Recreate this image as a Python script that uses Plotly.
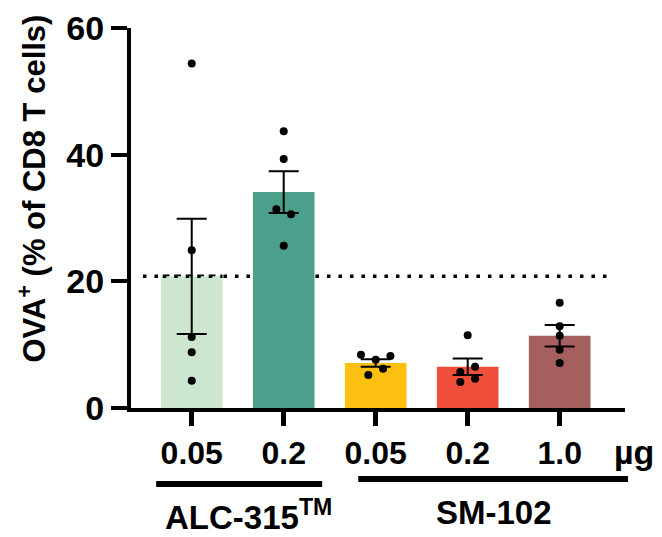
import plotly.graph_objects as go

# ---- data ----
dose_labels = ["0.05", "0.2", "0.05", "0.2", "1.0"]
bar_means = [20.8, 34.1, 7.1, 6.5, 11.4]
bar_sem = [9.1, 3.3, 0.6, 1.3, 1.7]
bar_colors = ["#CDE6CF", "#4BA08B", "#FBC010", "#EF4F3A", "#A65F5F"]
points = [
    [54.4, 24.9, 11.2, 8.8, 4.3],
    [43.7, 39.3, 31.4, 30.6, 25.6],
    [8.4, 7.6, 8.2, 6.2, 5.2],
    [11.5, 5.7, 6.5, 4.1, 4.6],
    [16.6, 12.9, 11.4, 9.2, 7.1],
]
point_offsets = [
    [0, 0, 0, 0, 0],
    [0, 0, -0.08, 0.08, 0],
    [-0.16, 0, 0.16, 0.08, -0.08],
    [0, -0.08, 0.08, -0.08, 0.08],
    [0, 0, 0, 0, 0],
]
reference_level = 20.8
y_ticks = [0, 20, 40, 60]
group_names = ["ALC-315<sup>TM</sup>", "SM-102"]
unit_label = "µg"
y_title = "OVA<sup>+</sup> (% of CD8 T cells)"

FONT = "Arial, Liberation Sans, sans-serif"
xs = list(range(len(bar_means)))
BAR_W = 0.67

# page body has an 8px default margin; figure is sized to fit the window
W, H = 654, 529

fig = go.Figure()
fig.add_trace(go.Bar(
    x=xs, y=bar_means, width=BAR_W,
    marker=dict(color=bar_colors, line=dict(width=0)),
    error_y=dict(type="data", array=bar_sem, visible=True,
                 color="black", thickness=2, width=15),
    showlegend=False,
))
px, py = [], []
for i, vals in enumerate(points):
    for v, o in zip(vals, point_offsets[i]):
        px.append(i + o)
        py.append(v)
fig.add_trace(go.Scatter(
    x=px, y=py, mode="markers",
    marker=dict(color="black", size=8, line=dict(width=0)),
    showlegend=False, cliponaxis=False,
))

dot_line = dict(color="black", width=3.5, dash="3.5px,8px")
fig.add_shape(type="line", xref="x", yref="y", x0=-0.53, x1=4.57,
              y0=reference_level, y1=reference_level, layer="below",
              line=dot_line)
# the dotted line shows over the first (pale) bar
fig.add_shape(type="line", xref="x", yref="y", x0=xs[0] - BAR_W / 2 + 0.02,
              x1=xs[0] + BAR_W / 2, y0=reference_level, y1=reference_level,
              layer="above", line=dot_line)

# group underlines
fig.add_shape(type="line", xref="paper", yref="paper", x0=0.051, x1=0.387,
              y0=-0.2, y1=-0.2, line=dict(color="black", width=6))
fig.add_shape(type="line", xref="paper", yref="paper", x0=0.460, x1=1.006,
              y0=-0.187, y1=-0.187, line=dict(color="black", width=6))
fig.add_annotation(x=0.237, y=-0.282, xref="paper", yref="paper",
                   xanchor="center", yanchor="middle",
                   text=group_names[0], showarrow=False,
                   font=dict(family=FONT, size=33, color="black", weight="bold"))
fig.add_annotation(x=0.735, y=-0.274, xref="paper", yref="paper",
                   xanchor="center", yanchor="middle",
                   text=group_names[1], showarrow=False,
                   font=dict(family=FONT, size=33, color="black", weight="bold"))
fig.add_annotation(x=1.019, y=-0.115, xref="paper", yref="paper",
                   xanchor="center", yanchor="middle",
                   text=unit_label, showarrow=False,
                   font=dict(family=FONT, size=34, color="black", weight="bold"))
fig.add_annotation(x=-0.2, y=0.578, xref="paper", yref="paper",
                   xanchor="center", yanchor="middle",
                   text=y_title, showarrow=False, textangle=-90,
                   font=dict(family=FONT, size=31, color="black", weight="bold"))

fig.update_layout(
    width=W, height=H, autosize=False,
    margin=dict(l=123, r=37, t=20, b=129, pad=0, autoexpand=False),
    paper_bgcolor="white", plot_bgcolor="white",
    font=dict(family=FONT, color="black"),
    xaxis=dict(range=[-0.66, 4.71], tickvals=xs, ticktext=dose_labels,
               showline=True, linecolor="black", linewidth=4,
               ticks="outside", ticklen=14, tickwidth=5, tickcolor="black",
               showgrid=False, zeroline=False, ticklabelstandoff=0,
               automargin=False,
               tickfont=dict(family=FONT, size=32, color="black", weight="bold")),
    yaxis=dict(range=[0, 60], tickvals=y_ticks,
               showline=True, linecolor="black", linewidth=4,
               ticks="outside", ticklen=16, tickwidth=4, tickcolor="black",
               showgrid=False, zeroline=False, automargin=False,
               tickfont=dict(family=FONT, size=34, color="black", weight="bold")),
)
fig.write_html("out.html")
